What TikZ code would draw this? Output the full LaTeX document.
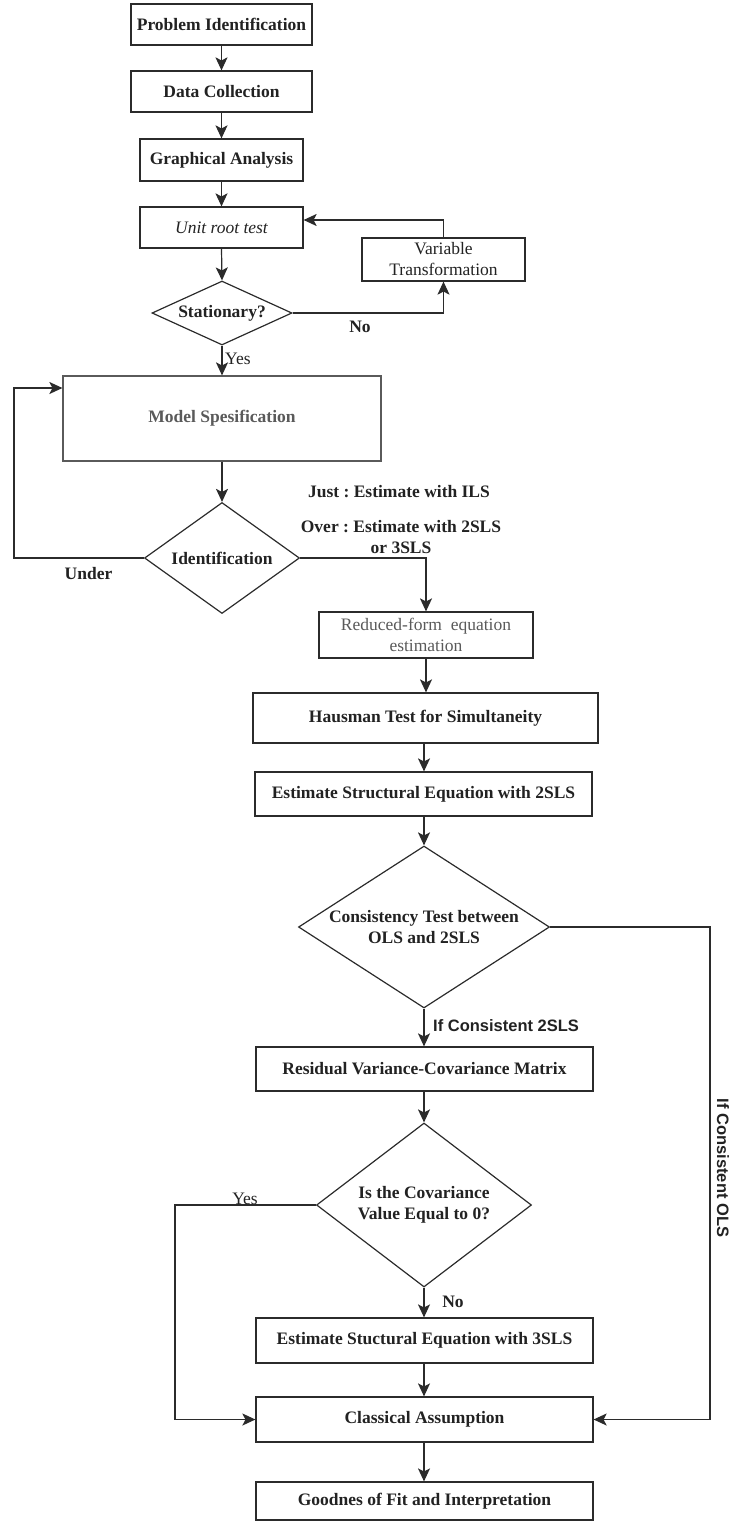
\documentclass[tikz,border=0pt]{standalone}
\usepackage{fontspec}
\setmainfont{Liberation Serif}
\newfontfamily\serifenlos{Liberation Sans}
\usetikzlibrary{shapes.geometric,arrows.meta}
\frenchspacing

\definecolor{strich}{HTML}{2B2B2B}
\definecolor{schrift}{HTML}{222222}
\definecolor{grau}{HTML}{5A5A5A}

\begin{document}
\begin{tikzpicture}[x=1pt, y=-1pt,
    kasten/.style={draw=strich, line width=1.2pt, rectangle, inner sep=0pt, align=center,
      text=schrift, font=\fontsize{17.5}{20.5}\selectfont\bfseries},
    raute/.style={draw=strich, line width=1.2pt, diamond, inner sep=0pt, align=center,
      text=schrift, font=\fontsize{17.5}{20.5}\selectfont\bfseries},
    pfeil/.style={draw=strich, line width=1.2pt, -{Stealth[length=13pt, width=12pt, inset=3pt]}},
    beschriftung/.style={text=schrift, inner sep=0pt, font=\fontsize{17.5}{20.5}\selectfont\bfseries},
    duenn/.style={font=\fontsize{17.5}{20.5}\selectfont},
    serifenlostext/.style={text=schrift, inner sep=0pt, font=\fontsize{16.5}{19}\serifenlos\bfseries}
  ]

        \useasboundingbox (0,0) rectangle (730,1521);

        \coordinate (links) at (14,0);
        \coordinate (rechts) at (710,0);
        \coordinate (jaecke) at (175,0);

        % Kaesten und Rauten
        \node [kasten, minimum width=181pt, minimum height=41pt] (problem) at (221.5,24.5) {Problem Identification};
        \node [kasten, minimum width=181pt, minimum height=41pt] (daten) at (221.5,91.5) {Data Collection};
        \node [kasten, minimum width=163pt, minimum height=42pt] (grafik) at (221.5,160) {Graphical Analysis};
        \node [kasten, minimum width=163pt, minimum height=41pt, font=\fontsize{17.5}{20.5}\selectfont\itshape] (einheitswurzel) at (221.5,227.5) {Unit root test};
        \node [kasten, minimum width=163pt, minimum height=43pt, font=\fontsize{17.5}{21}\selectfont] (transformation) at (443.5,259.5) {Variable\\Transformation};
        \node [raute, minimum width=140pt, minimum height=64pt, shape aspect=2.19] (stationaer) at (222,313) {Stationary?};
        \node [kasten, minimum width=318pt, minimum height=85pt, draw=grau, text=grau] (modell) at (222,418.5) {Model Spesification};
        \node [raute, minimum width=155pt, minimum height=111pt, shape aspect=1.4] (identifikation) at (222,558) {Identification};
        \node [kasten, minimum width=214pt, minimum height=46pt, text=grau, font=\fontsize{17.5}{21}\selectfont] (reduziert) at (426,635) {Reduced-form\ \ equation\\estimation};
        \node [kasten, minimum width=345pt, minimum height=50pt] (hausman) at (425.5,718) {Hausman Test for Simultaneity};
        \node [kasten, minimum width=337pt, minimum height=44pt] (zweistufig) at (423.5,794) {Estimate Structural Equation with 2SLS};
        \node [raute, minimum width=251pt, minimum height=162pt, shape aspect=1.55] (konsistenz) at (424,927) {Consistency Test between\\OLS and 2SLS};
        \node [kasten, minimum width=337pt, minimum height=44pt] (residual) at (424.5,1069) {Residual Variance-Covariance Matrix};
        \node [raute, minimum width=215pt, minimum height=164pt, shape aspect=1.31] (kovarianz) at (424,1205) {Is the Covariance\\Value Equal to 0?};
        \node [kasten, minimum width=337pt, minimum height=45pt] (dreistufig) at (424.5,1340.5) {Estimate Stuctural Equation with 3SLS};
        \node [kasten, minimum width=337pt, minimum height=45pt] (annahme) at (424.5,1419.5) {Classical Assumption};
        \node [kasten, minimum width=337pt, minimum height=38pt] (guete) at (424.5,1501) {Goodnes of Fit and Interpretation};

        % Beschriftungen
        \node [beschriftung] (nein) at (360,327) {No};
        \node [beschriftung, duenn, anchor=west] (ja) at (225,359) {Yes};
        \node [beschriftung] (unter) at (88.5,574) {Under};
        \node [beschriftung] (genau) at (399,492) {Just : Estimate with ILS};
        \node [beschriftung, align=center] (ueber) at (401,537) {Over : Estimate with 2SLS\\or 3SLS};
        \node [serifenlostext, anchor=west] (konsistentzwei) at (433,1026) {If Consistent 2SLS};
        \node [serifenlostext, rotate=-90] (konsistentols) at (723,1168) {If Consistent OLS};
        \node [beschriftung, duenn] (jazwei) at (245,1199) {Yes};
        \node [beschriftung] (neinzwei) at (453,1302) {No};

        % Pfeile
        \draw [pfeil] (problem) -- (daten);
        \draw [pfeil] (daten) -- (grafik);
        \draw [pfeil] (grafik) -- (einheitswurzel);
        \draw [pfeil] (einheitswurzel.south) -- (stationaer.north);
        \draw [pfeil] (stationaer.east) -- (stationaer.east -| transformation.south) -- (transformation.south);
        \draw [pfeil] (transformation.north) |- ([yshift=7.5pt]einheitswurzel.east);
        \draw [pfeil] (stationaer.south) -- (modell.north);
        \draw [pfeil] (modell.south) -- (identifikation.north);
        \draw [pfeil] (identifikation.west) -- (identifikation.west -| links) |- ([yshift=30.5pt]modell.west);
        \draw [pfeil] (identifikation.east) -| (reduziert.north);
        \draw [pfeil] (reduziert.south) -- (reduziert.south |- hausman.north);
        \draw [pfeil] (hausman.south -| konsistenz.north) -- (zweistufig.north -| konsistenz.north);
        \draw [pfeil] (zweistufig.south -| konsistenz.north) -- (konsistenz.north);
        \draw [pfeil] (konsistenz.south) -- (konsistenz.south |- residual.north);
        \draw [pfeil] (konsistenz.east) -- (konsistenz.east -| rechts) |- (annahme.east);
        \draw [pfeil] (residual.south -| kovarianz.north) -- (kovarianz.north);
        \draw [pfeil] (kovarianz.west) -- (kovarianz.west -| jaecke) |- (annahme.west);
        \draw [pfeil] (kovarianz.south) -- (kovarianz.south |- dreistufig.north);
        \draw [pfeil] (dreistufig.south -| kovarianz.south) -- (annahme.north -| kovarianz.south);
        \draw [pfeil] (annahme.south -| kovarianz.south) -- (guete.north -| kovarianz.south);

\end{tikzpicture}
\end{document}
